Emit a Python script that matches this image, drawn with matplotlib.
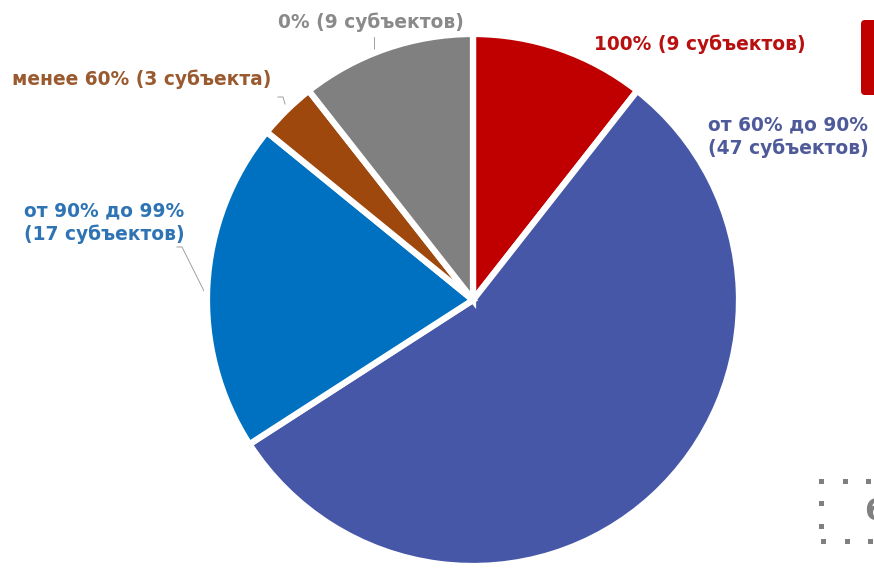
import matplotlib
matplotlib.use("Agg")
import matplotlib.pyplot as plt
from matplotlib.patches import FancyBboxPatch, Rectangle

# Data
categories = ["100%", "от 60% до 90%", "от 90% до 99%", "менее 60%", "0%"]
counts = [9, 47, 17, 3, 9]
labels = ["100% (9 субъектов)", "от 60% до 90%\n(47 субъектов)",
          "от 90% до 99%\n(17 субъектов)", "менее 60% (3 субъекта)",
          "0% (9 субъектов)"]
colors = ["#C00000", "#4657A8", "#0070C0", "#9E480E", "#808080"]
label_colors = ["#B81010", "#4F5A9A", "#2E74B5", "#9A5A30", "#8A8A8A"]

W, H = 874, 568
fig = plt.figure(figsize=(W / 100, H / 100), dpi=100)
ax = fig.add_axes([0, 0, 1, 1])
ax.set_xlim(0, W)
ax.set_ylim(H, 0)
ax.set_aspect("equal")
ax.axis("off")

pax = fig.add_axes([0, 0, 1, 1])
pax.set_xlim(0, W)
pax.set_ylim(0, H)
pax.set_aspect("equal")
pax.axis("off")
cx, cy, r = 473, H - 300, 266
pax.pie(counts, colors=colors, startangle=90, counterclock=False,
        center=(cx, cy), radius=r, explode=[0.018] * len(counts),
        wedgeprops=dict(edgecolor="white", linewidth=4.5))
pax.set_xlim(0, W)
pax.set_ylim(0, H)

# Label positions (pixels, y down)
pos = [(700, 44), (788, 137), (104, 223), (142, 79), (371, 22)]
for lab, c, (x, y) in zip(labels, label_colors, pos):
    ax.text(x, y, lab, color=c, fontsize=13.4, fontweight="bold",
            ha="center", va="center", family="DejaVu Sans",
            linespacing=1.25)

# Leader lines
ax.plot([374, 374], [37, 52], color="#A0A0A0", lw=0.7)
ax.plot([278, 283, 285], [97, 97, 104], color="#A0A0A0", lw=0.7)
ax.plot([177, 182, 204], [247, 247, 291], color="#A0A0A0", lw=0.7)

# Red rectangle (top right, partially cut)
ax.add_patch(FancyBboxPatch((861, 20), 40, 75,
                            boxstyle="round,pad=0,rounding_size=4",
                            facecolor="#C00000", edgecolor="none"))

# Dotted box bottom right
dot_c = "#808080"
for (x, y) in [(821, 481), (845, 481), (868, 481),
               (821, 503), (821, 526),
               (823, 541), (847, 541), (870, 541)]:
    ax.add_patch(Rectangle((x - 2.5, y - 2.5), 5, 5, facecolor=dot_c,
                           edgecolor="none"))
ax.text(864, 512, "6", color="#808080", fontsize=22, fontweight="bold",
        ha="left", va="center", family="DejaVu Sans")

fig.savefig("out.png", dpi=100)
